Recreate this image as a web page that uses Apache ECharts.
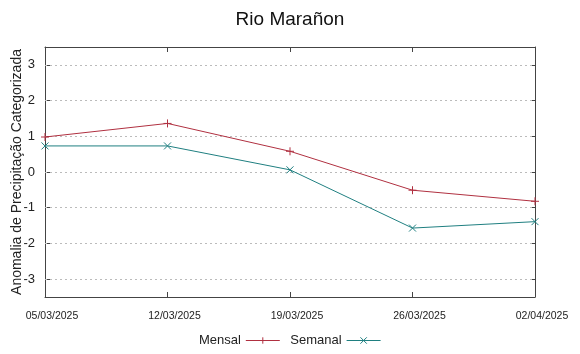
<!DOCTYPE html>
<html><head><meta charset="utf-8">
<script src="https://cdn.jsdelivr.net/npm/echarts@6/dist/echarts.min.js"></script>
<style>html,body{margin:0;padding:0;background:#fff}#c{width:580px;height:354px}</style>
</head><body><div id="c"></div>
<script>
const categories = ['05/03/2025','12/03/2025','19/03/2025','26/03/2025','02/04/2025'];
const mensal = [0.98, 1.36, 0.58, -0.51, -0.82];
const semanal = [0.73, 0.73, 0.06, -1.57, -1.39];
const yTicks = [-3, -2, -1, 0, 1, 2, 3];

const chart = echarts.init(document.getElementById('c'), null, {renderer: 'canvas'});
const plusPath = 'path://M0,5L10,5M5,0L5,10';
const crossPath = 'path://M0,0L10,10M10,0L0,10';
const redC = '#b03040';
const tealC = '#1f7f80';
const axisLineStyle = {color: '#444', width: 1};
chart.setOption({
  animation: false,
  title: {text: 'Rio Marañon', left: 'center', top: 5, textStyle: {fontFamily: 'Liberation Sans', fontSize: 19, fontWeight: 'normal', color: '#111'}},
  legend: {
    bottom: 2, left: 'center', align: 'right', itemWidth: 34, itemHeight: 8, itemGap: 10,
    textStyle: {fontFamily: 'Liberation Sans', fontSize: 13, color: '#222'},
    lineStyle: {width: 1}, itemStyle: {borderWidth: 1},
    data: ['Mensal', 'Semanal']
  },
  grid: {left: 45, right: 45, top: 47, bottom: 57, containLabel: false, outerBoundsMode: 'none'},
  xAxis: [{
    type: 'category', data: categories, boundaryGap: false,
    axisLine: {onZero: false, lineStyle: axisLineStyle},
    axisTick: {inside: true, length: 5, lineStyle: {color: '#444'}},
    axisLabel: {fontFamily: 'Liberation Sans', fontSize: 10.5, color: '#222', margin: 14, padding: [0, 0, 0, 14]},
    splitLine: {show: false}
  }, {
    type: 'category', data: categories, boundaryGap: false, position: 'top',
    axisLine: {onZero: false, lineStyle: axisLineStyle},
    axisTick: {inside: true, length: 5, lineStyle: {color: '#444'}},
    axisLabel: {show: false}, splitLine: {show: false}
  }],
  yAxis: [{
    type: 'value', min: -3.5, max: 3.5,
    name: 'Anomalia de Precipitação Categorizada', nameLocation: 'middle', nameGap: 21,
    nameMoveOverlap: false,
    nameTextStyle: {fontFamily: 'Liberation Sans', fontSize: 14, color: '#222'},
    axisLine: {show: true, onZero: false, lineStyle: axisLineStyle},
    axisTick: {show: true, inside: true, length: 5, customValues: yTicks, lineStyle: {color: '#444'}},
    axisLabel: {fontFamily: 'Liberation Sans', fontSize: 13, color: '#222', margin: 10, customValues: yTicks},
    splitLine: {show: false}
  }, {
    type: 'value', min: -3.5, max: 3.5, position: 'right',
    axisLine: {show: true, onZero: false, lineStyle: axisLineStyle},
    axisTick: {show: true, inside: true, length: 5, customValues: yTicks, lineStyle: {color: '#444'}},
    axisLabel: {show: false}, splitLine: {show: false}
  }],
  series: [{
    name: 'Mensal', type: 'line', data: mensal, xAxisIndex: 0, yAxisIndex: 0, z: 3,
    symbol: plusPath, symbolSize: 8, showSymbol: true,
    lineStyle: {color: redC, width: 1},
    itemStyle: {color: redC, borderColor: redC, borderWidth: 1},
    markLine: {
      silent: true, symbol: ['none', 'none'], z: 1,
      label: {show: false},
      lineStyle: {color: '#bbb', type: [2, 3], width: 1},
      emphasis: {disabled: true},
      data: yTicks.map(v => ({yAxis: v}))
    }
  }, {
    name: 'Semanal', type: 'line', data: semanal, xAxisIndex: 0, yAxisIndex: 0, z: 3,
    symbol: crossPath, symbolSize: 7, showSymbol: true,
    lineStyle: {color: tealC, width: 1},
    itemStyle: {color: tealC, borderColor: tealC, borderWidth: 1}
  }]
});
</script></body></html>
